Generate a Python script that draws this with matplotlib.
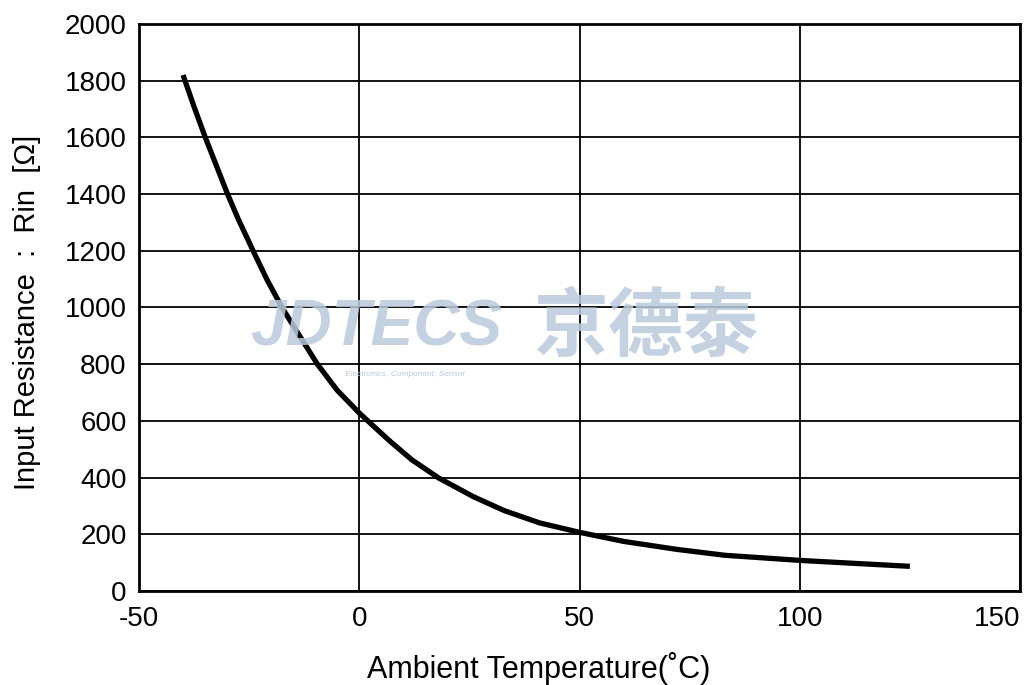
import matplotlib
matplotlib.use("Agg")
import matplotlib.pyplot as plt

# Data
temperature_c = [-40, -37.5, -35, -32.5, -30, -27.5, -24, -21, -17.5, -13.5, -9.5, -5, 0, 2.5,
                 7, 12, 18, 26, 33, 41, 50, 55, 60, 72, 83, 100, 113, 125]
resistance_ohm = [1820, 1708, 1602, 1503, 1404, 1313, 1197, 1100, 999, 899, 800, 708, 628, 592,
                  528, 462, 399, 332, 283, 240, 207, 191, 175, 147, 126, 108, 97, 87]

x_ticks = [-50, 0, 50, 100, 150]
y_ticks = [0, 200, 400, 600, 800, 1000, 1200, 1400, 1600, 1800, 2000]

plt.rcParams['font.family'] = ['Liberation Sans', 'DejaVu Sans']
plt.rcParams['axes.unicode_minus'] = False

fig = plt.figure(figsize=(10.27, 6.85), dpi=100)
ax = fig.add_axes([139/1027, 1 - 591/685, (1020-139)/1027, (591-24)/685])

ax.plot(temperature_c, resistance_ohm, color='black', lw=3.8, solid_capstyle='butt',
        solid_joinstyle='round', zorder=4)

ax.set_xlim(-50, 150)
ax.set_ylim(0, 2000)
ax.set_xticks(x_ticks)
ax.set_yticks(y_ticks)
ax.tick_params(length=0, labelsize=20, colors='black')
ax.tick_params(axis='x', pad=11)
ax.tick_params(axis='y', pad=9)
ax.grid(True, color='black', lw=1.3, zorder=1)
ax.set_axisbelow(True)
for s in ax.spines.values():
    s.set_linewidth(2.0)
    s.set_color('black')

# last x tick label kept inside the figure
fig.canvas.draw()
xlabels = ax.get_xticklabels()
xlabels[-1].set_horizontalalignment('right')

ax.set_xlabel('Ambient Temperature(˚C)', fontsize=22)
ax.xaxis.set_label_coords((539-139)/881, -(668-591)/567, transform=ax.transAxes)
ax.xaxis.label.set_verticalalignment('center')
ax.set_ylabel('Input Resistance  :  Rin  [Ω]', fontsize=21)
ax.yaxis.set_label_coords(-(139-27)/881, (591-312)/567, transform=ax.transAxes)
ax.yaxis.label.set_verticalalignment('center')

# Watermark
fig.text(250/1027, 1 - 328/685, 'JDTECS', fontsize=46, fontweight='bold', fontstyle='italic',
         color='#b9c9dc', alpha=0.85, va='center', ha='left', zorder=3)
fig.text(533/1027, 1 - 328/685, '京德泰', fontsize=54, fontweight='bold',
         family=['Noto Sans CJK SC', 'DejaVu Sans'],
         color='#b9c9dc', alpha=0.85, va='center', ha='left', zorder=3)
fig.text(345/1027, 1 - 375/685, 'Electronics, Component, Sensor', fontsize=6, fontstyle='italic',
         color='#b9c9dc', va='center', ha='left', zorder=3)

fig.savefig('out.png', dpi=100)
